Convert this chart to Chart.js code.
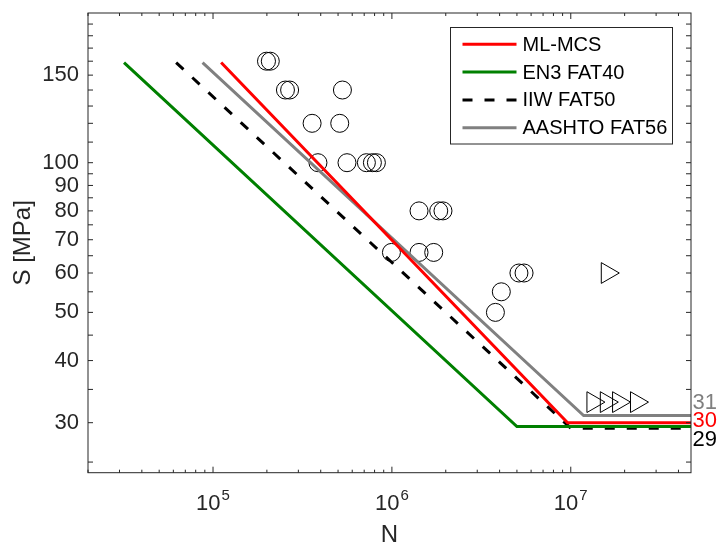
<!DOCTYPE html>
<html>
<head>
<meta charset="utf-8">
<title>S-N curves</title>
<script src="https://cdn.jsdelivr.net/npm/chart.js@4.4.0/dist/chart.umd.min.js"></script>
<style>
  body { margin: 0; background: #fff; }
</style>
</head>
<body>
<canvas id="sn-chart" width="717" height="550"></canvas>
<script>
// design curves (N in cycles, S in MPa)
const mlN = [1.11e5, 9.6e6, 4.7e7];
const mlS = [159, 30, 30];
const en3N = [3.18e4, 5.0e6, 4.7e7];
const en3S = [159, 29.47, 29.47];
const iiwN = [6.22e4, 1.0e7, 4.7e7];
const iiwS = [159, 29.24, 29.24];
const aashtoN = [8.74e4, 1.18e7, 4.7e7];
const aashtoS = [159, 31, 31];

const curveLabels = ['ML-MCS', 'EN3 FAT40', 'IIW FAT50', 'AASHTO FAT56'];

// test results - failures (circles)
const failN = [1.99e5, 2.09e5, 2.54e5, 2.68e5, 5.29e5, 3.58e5, 5.11e5, 3.86e5, 5.61e5, 7.20e5, 7.78e5,
  8.19e5, 1.418e6, 1.827e6, 1.93e6, 9.94e5, 1.418e6, 1.713e6, 5.13e6, 5.48e6, 4.09e6, 3.79e6];
const failS = [160, 160, 140, 140, 140, 120, 120, 100, 100, 100, 100,
  100, 80, 80, 80, 66, 66, 66, 60, 60, 55, 50];

// run-outs (triangles)
const runoutN = [1.60e7, 1.33e7, 1.58e7, 1.85e7, 2.33e7];
const runoutS = [60, 33, 33, 33, 33];

// fatigue limit labels on the right
const limitLabels = ['31', '30', '29'];
const limitValues = [31, 30, 29.24];
const limitColors = ['#808080', '#ff0000', '#000000'];

// axes
const xMin = 2e4, xMax = 4.7e7;
const yMin = 23.8, yMax = 200;
const xTickLabels = [1e5, 1e6, 1e7];
const yTicks = [25, 30, 35, 40, 45, 50, 55, 60, 65, 70, 75, 80, 85, 90, 95,
  100, 110, 120, 130, 140, 150, 160, 170, 180, 190];
const yTickLabels = [30, 40, 50, 60, 70, 80, 90, 100, 150];

const FONT = '"Liberation Sans", Arial, Helvetica, sans-serif';
const AXIS_COLOR = '#262626';

function toPoints(ns, ss) {
    return ns.map((n, i) => ({ x: n, y: ss[i] }));
}

function curve(label, ns, ss, color, dash) {
    return {
        label: label,
        data: toPoints(ns, ss),
        showLine: true,
        borderColor: color,
        backgroundColor: color,
        borderWidth: 3,
        borderDash: dash || [],
        pointRadius: 0,
        fill: false,
        tension: 0,
        isCurve: true
    };
}

// draws box, inward ticks, x labels with exponents, limit labels and legend
const decorations = {
    id: 'decorations',
    afterDraw(chart) {
        const ctx = chart.ctx;
        const area = chart.chartArea;
        const xs = chart.scales.x;
        const ys = chart.scales.y;

        ctx.save();
        ctx.strokeStyle = AXIS_COLOR;
        ctx.lineWidth = 1;
        ctx.strokeRect(area.left, area.top, area.right - area.left, area.bottom - area.top);

        // x ticks
        ctx.beginPath();
        xs.ticks.forEach(t => {
            const px = xs.getPixelForValue(t.value);
            const len = xTickLabels.includes(t.value) ? 6 : 3;
            ctx.moveTo(px, area.bottom);
            ctx.lineTo(px, area.bottom - len);
            ctx.moveTo(px, area.top);
            ctx.lineTo(px, area.top + len);
        });
        // y ticks
        ys.ticks.forEach(t => {
            const py = ys.getPixelForValue(t.value);
            ctx.moveTo(area.left, py);
            ctx.lineTo(area.left + 5, py);
            ctx.moveTo(area.right, py);
            ctx.lineTo(area.right - 5, py);
        });
        ctx.stroke();

        // x tick labels: 10 with superscript exponent
        ctx.fillStyle = AXIS_COLOR;
        ctx.textBaseline = 'alphabetic';
        ctx.textAlign = 'left';
        xTickLabels.forEach(v => {
            const px = xs.getPixelForValue(v);
            const exp = String(Math.round(Math.log10(v)));
            ctx.font = '22px ' + FONT;
            const bw = ctx.measureText('10').width;
            ctx.font = '15px ' + FONT;
            const ew = ctx.measureText(exp).width;
            const x0 = px - (bw + ew + 1) / 2;
            ctx.font = '22px ' + FONT;
            ctx.fillText('10', x0, area.bottom + 37.5);
            ctx.font = '15px ' + FONT;
            ctx.fillText(exp, x0 + bw + 1, area.bottom + 27);
        });

        // fatigue limit values
        const dy = [-13, -2, 12];
        ctx.font = '22px ' + FONT;
        ctx.textBaseline = 'middle';
        limitLabels.forEach((txt, i) => {
            ctx.fillStyle = limitColors[i];
            ctx.fillText(txt, area.right + 1.5, ys.getPixelForValue(limitValues[i]) + dy[i]);
        });

        // legend
        const lx = 450.5, ly = 27.5, lw = 222, lh = 116.5;
        ctx.fillStyle = '#ffffff';
        ctx.fillRect(lx, ly, lw, lh);
        ctx.strokeStyle = AXIS_COLOR;
        ctx.lineWidth = 1;
        ctx.strokeRect(lx, ly, lw, lh);
        ctx.font = '20px ' + FONT;
        const curves = chart.data.datasets.filter(d => d.isCurve);
        curves.forEach((d, i) => {
            const ry = ly + 16.8 + i * 27.8;
            ctx.beginPath();
            ctx.strokeStyle = d.borderColor;
            ctx.lineWidth = 3;
            ctx.setLineDash(d.borderDash);
            ctx.moveTo(lx + 12, ry);
            ctx.lineTo(lx + 66, ry);
            ctx.stroke();
            ctx.setLineDash([]);
            ctx.fillStyle = '#000000';
            ctx.fillText(d.label, lx + 72, ry + 1);
        });
        ctx.restore();
    }
};

const chart = new Chart(document.getElementById('sn-chart').getContext('2d'), {
    type: 'scatter',
    data: {
        datasets: [
            curve(curveLabels[0], mlN, mlS, '#ff0000'),
            curve(curveLabels[1], en3N, en3S, '#008000'),
            curve(curveLabels[2], iiwN, iiwS, '#000000', [10, 12]),
            curve(curveLabels[3], aashtoN, aashtoS, '#808080'),
            {
                label: 'Failures',
                data: toPoints(failN, failS),
                pointStyle: 'circle',
                pointRadius: 9,
                borderColor: '#000000',
                borderWidth: 1,
                backgroundColor: 'rgba(0,0,0,0)'
            },
            {
                label: 'Run-outs',
                data: toPoints(runoutN, runoutS),
                pointStyle: 'triangle',
                rotation: 90,
                pointRadius: 12,
                borderColor: '#000000',
                borderWidth: 1,
                backgroundColor: 'rgba(0,0,0,0)'
            }
        ]
    },
    options: {
        responsive: false,
        animation: false,
        devicePixelRatio: 1,
        layout: { padding: { left: 0, right: 26, top: 9.3, bottom: 0 } },
        plugins: {
            legend: { display: false },
            tooltip: { enabled: false }
        },
        scales: {
            x: {
                type: 'logarithmic',
                min: xMin,
                max: xMax,
                bounds: 'data',
                grid: { display: false },
                border: { display: false },
                ticks: { display: false },
                title: {
                    display: true,
                    text: 'N',
                    color: AXIS_COLOR,
                    font: { family: FONT, size: 24 },
                    padding: { top: 0, bottom: 0.5 }
                },
                afterBuildTicks: scale => {
                    const ticks = [];
                    for (let e = 4; e <= 7; e++) {
                        for (let m = 1; m <= 9; m++) {
                            const v = m * Math.pow(10, e);
                            if (v >= xMin && v <= xMax) ticks.push({ value: v });
                        }
                    }
                    scale.ticks = ticks;
                },
                afterFit: scale => {
                    scale.height = 77.3;
                    scale.paddingLeft = 0;
                    scale.paddingRight = 0;
                }
            },
            y: {
                type: 'logarithmic',
                min: yMin,
                max: yMax,
                bounds: 'data',
                grid: { display: false, drawTicks: false },
                border: { display: false },
                ticks: {
                    autoSkip: false,
                    padding: 9,
                    color: AXIS_COLOR,
                    font: { family: FONT, size: 22 },
                    callback: value => yTickLabels.includes(value) ? String(value) : ''
                },
                title: {
                    display: true,
                    text: 'S [MPa]',
                    color: AXIS_COLOR,
                    font: { family: FONT, size: 24 },
                    padding: { top: 9, bottom: 0 }
                },
                afterBuildTicks: scale => {
                    scale.ticks = yTicks.map(v => ({ value: v }));
                },
                afterFit: scale => {
                    scale.width = 88;
                    scale.paddingTop = 0;
                    scale.paddingBottom = 0;
                }
            }
        }
    },
    plugins: [decorations]
});
</script>
</body>
</html>
